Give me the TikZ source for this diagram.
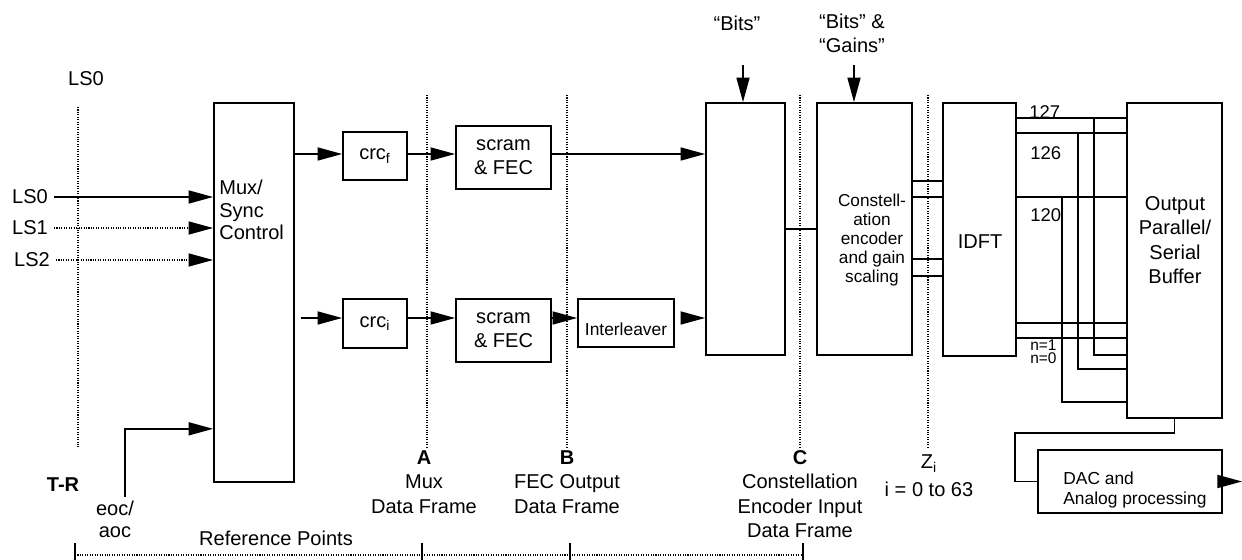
\documentclass[tikz,border=0pt]{standalone}
\usepackage{fontspec}
\setmainfont{Liberation Sans}
\usetikzlibrary{arrows.meta,calc}
\newcommand\mainsz{\fontsize{11.4}{13.8}\selectfont}
\newcommand\smallsz{\fontsize{9.9}{11.3}\selectfont}
\tikzset{
  blk/.style={draw, line width=1pt, inner sep=0pt},
  wire/.style={line width=1pt},
  arr/.style={line width=1pt, -{Triangle[length=14pt,width=7.4pt]}},
  refdot/.style={line width=0.9pt, dash pattern=on 0.6pt off 0.8pt},
  dotin/.style={refdot, -{Triangle[length=14pt,width=7.4pt]}},
}
\begin{document}
\begin{tikzpicture}[x=0.02cm, y=-0.02cm, font=\mainsz]
    \useasboundingbox (0,0) rectangle (1242,560);
    \coordinate (toprow) at (0,154);
    \coordinate (lowrow) at (0,318);

    % reference point lines
    \draw[refdot] (78,107) -- (78,447);
    \foreach \x in {427,567,800,928}
        \draw[refdot] (\x,95) -- (\x,447);

    % blocks
    \node[blk, minimum width=1.6cm, minimum height=7.58cm] (mux) at (254,292.5) {};
        \node[align=left, anchor=west, inner sep=0pt, font=\fontsize{11.4}{12.8}\selectfont] (muxtxt) at (219,210) {Mux/\\Sync\\Control};
    \node[blk, minimum width=1.28cm, minimum height=0.96cm] (crcf) at (375,156) {crc\textsubscript{f}};
    \node[blk, minimum width=1.28cm, minimum height=0.98cm] (crci) at (375,323.5) {crc\textsubscript{i}};
    \node[blk, align=center, minimum width=1.9cm, minimum height=1.26cm] (scramf) at (503.5,157.5) {scram\\\& FEC};
    \node[blk, align=center, minimum width=1.9cm, minimum height=1.26cm] (scrami) at (503.5,330.5) {scram\\\& FEC};
    \node[blk, minimum width=1.92cm, minimum height=0.96cm] (intl) at (626,323) {};
        \node[font=\smallsz] (intltxt) at (626,329) {Interleaver};
    \node[blk, minimum width=1.58cm, minimum height=5.04cm] (bits) at (745.5,229) {};
    \node[blk, minimum width=1.9cm, minimum height=5.04cm] (const) at (864.5,229) {};
        \node[align=center, font=\fontsize{9.8}{10.8}\selectfont] (consttxt) at (872,240) {Constell-\\ation\\encoder\\and gain\\scaling};
    \node[blk, minimum width=1.46cm, minimum height=5.06cm] (idft) at (979.5,229.5) {};
        \node (idfttxt) at (980,242) {IDFT};
    \node[blk, minimum width=1.9cm, minimum height=6.3cm] (buf) at (1174.5,260.5) {};
        \node[align=center] (buftxt) at (1175,240) {Output\\Parallel/\\Serial\\Buffer};
    \node[blk, minimum width=3.68cm, minimum height=1.26cm] (dac) at (1130,481.5) {};
        \node[align=left, anchor=west, inner sep=0pt, font=\smallsz] (dactxt) at (1063,490) {DAC and\\Analog processing};

    % inputs
    \node (ls0top) at (86,79) {LS0};
    \node (ls0in) at (30,197) {LS0};
    \node (ls1in) at (30,228) {LS1};
    \node (ls2in) at (32,260) {LS2};
    \draw[arr] (ls0in.east) -- (ls0in -| mux.west);
    \draw[dotin] (ls1in.east) -- (ls1in -| mux.west);
    \draw[dotin] (ls2in.east) -- (ls2in -| mux.west);
    \node[align=center, font=\fontsize{11.4}{12.5}\selectfont] (eoc) at (115,519) {eoc/\\aoc};
    \coordinate (eocup) at (125,497);
    \draw[arr] (eocup) |- ($(mux.south west)+(0,-54)$);
    \node[font=\mainsz\bfseries] (tr) at (63,485) {T-R};

    % fast and interleaved paths
    \draw[arr] (mux.east |- toprow) -- (crcf.west |- toprow);
    \draw[arr] (crcf.east |- toprow) -- (scramf.west |- toprow);
    \draw[arr] (scramf.east |- toprow) -- (bits.west |- toprow);
    \draw[arr] ($(mux.east |- lowrow)+(6,0)$) -- (crci.west |- lowrow);
    \draw[arr] (crci.east |- lowrow) -- (scrami.west |- lowrow);
    \draw[arr] (scrami.east |- lowrow) -- (intl.west |- lowrow);
    \draw[arr] ($(intl.east |- lowrow)+(6,0)$) -- (bits.west |- lowrow);

    % bits and gains
    \node (bitslbl) at (737,23) {“Bits”};
    \node[align=center] (gainlbl) at (852,33) {“Bits” \&\\“Gains”};
    \coordinate (bitsdn) at (743,65);
    \coordinate (gaindn) at (854,65);
    \draw[arr] (bitsdn) -- (bitsdn |- bits.north);
    \draw[arr] (gaindn) -- (gaindn |- const.north);
    \draw[wire] (bits.east) -- (const.west);

    % constellation to IDFT to buffer
    \foreach \y in {181,197,259,276} {
        \coordinate (lv) at (0,\y);
        \draw[wire] (const.east |- lv) -- (idft.west |- lv);
    }
    \foreach \y in {118,133,197,323,338} {
        \coordinate (lv) at (0,\y);
        \draw[wire] (idft.east |- lv) -- (buf.west |- lv);
    }
    \foreach \x/\y/\yb in {1094/118/355, 1078/133/369, 1062/197/402} {
        \coordinate (tp) at (\x,\y);
        \coordinate (lv) at (0,\yb);
        \draw[wire] (tp) |- (buf.west |- lv);
    }
    \node[anchor=west, inner sep=0pt, font=\fontsize{10.5}{12}\selectfont] (n127) at (1029,112) {127};
    \node[anchor=west, inner sep=0pt, font=\fontsize{10.5}{12}\selectfont] (n126) at (1030,153) {126};
    \node[anchor=west, inner sep=0pt, font=\fontsize{10.5}{12}\selectfont] (n120) at (1030,215) {120};
    \node[anchor=west, align=left, inner sep=0pt, font=\fontsize{8.8}{7.4}\selectfont] (nlow) at (1030,351.5) {n=1\\n=0};

    % output
    \coordinate (bend) at (1015,433);
    \draw[wire] (buf.south) |- (bend) |- (dac.west);
    \coordinate (dacout) at (1242,481.5);
    \draw[arr] (dac.east) -- (dacout);

    % reference points
    \node[align=center] (ptA) at (424,482) {\textbf{A}\\Mux\\Data Frame};
    \node[align=center] (ptB) at (567,482) {\textbf{B}\\FEC Output\\Data Frame};
    \node[align=center] (ptC) at (800,494) {\textbf{C}\\Constellation\\Encoder Input\\Data Frame};
    \node[align=center] (ptZ) at (929,476) {Z\textsubscript{i}\\[2pt]i = 0 to 63};
    \node (refpts) at (276,538) {Reference Points};
    \draw[refdot] (75,555) -- (803,555);
    \foreach \x in {75,422,570,803}
        \draw[wire] (\x,543) -- (\x,560);
\end{tikzpicture}
\end{document}
